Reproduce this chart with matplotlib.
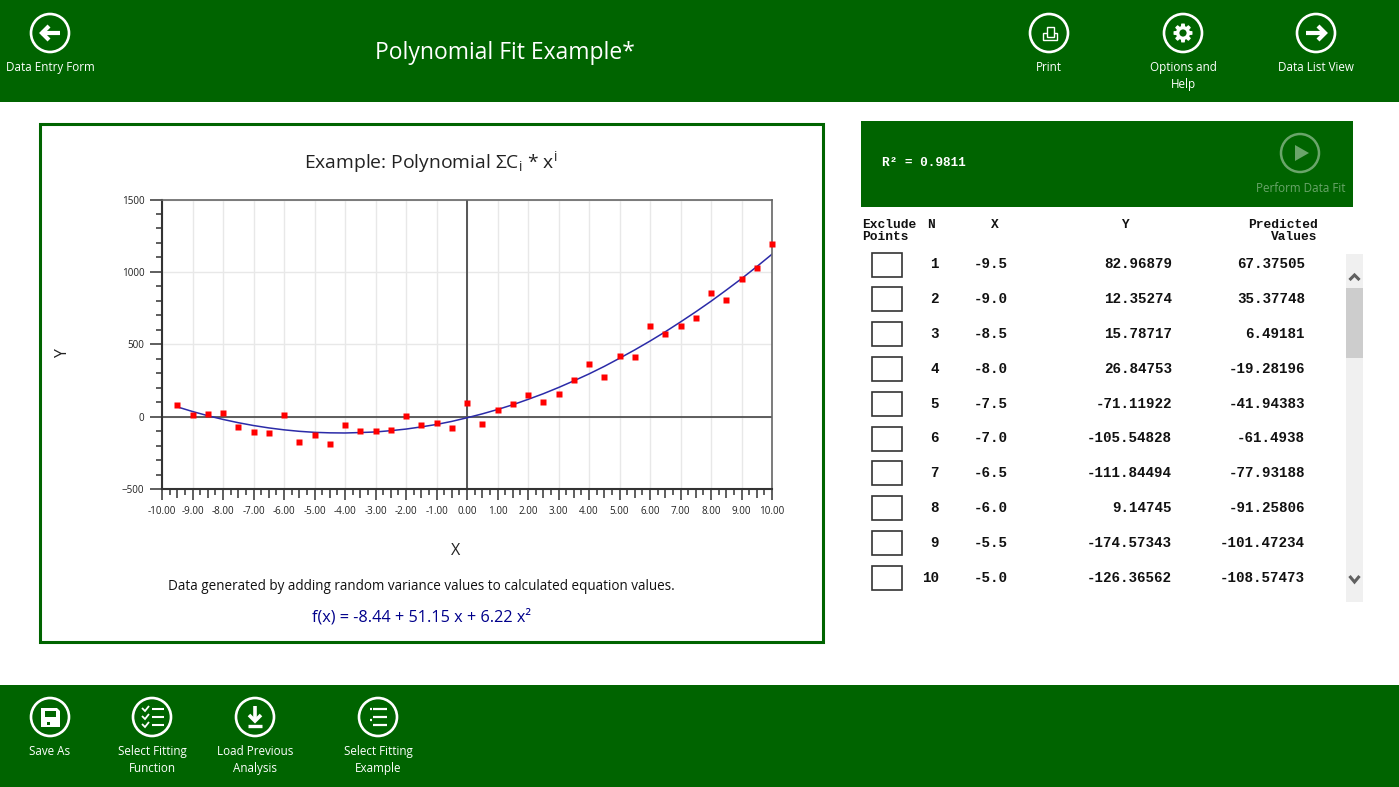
import numpy as np
import matplotlib
matplotlib.use('Agg')
import matplotlib.pyplot as plt
from matplotlib.patches import Rectangle, Circle, Polygon
from matplotlib.ticker import MultipleLocator, FormatStrFormatter

plt.rcParams['font.family'] = ['Open Sans', 'DejaVu Sans']
plt.rcParams['mathtext.default'] = 'regular'

# ---------------- data ----------------
x_vals = [-9.5, -9.0, -8.5, -8.0, -7.5, -7.0, -6.5, -6.0, -5.5, -5.0,
          -4.5, -4.0, -3.5, -3.0, -2.5, -2.0, -1.5, -1.0, -0.5, 0.0,
          0.5, 1.0, 1.5, 2.0, 2.5, 3.0, 3.5, 4.0, 4.5, 5.0,
          5.5, 6.0, 6.5, 7.0, 7.5, 8.0, 8.5, 9.0, 9.5, 10.0]
y_vals = [82.97, 12.35, 15.79, 26.85, -71.12, -105.55, -111.84, 9.15, -174.57, -126.37,
          -189, -60, -97, -101, -90, 2, -55, -44, -78, 92,
          -53, 46, 90, 152, 101, 156, 255, 363, 276, 416,
          412, 623, 570, 625, 680, 853, 807, 950, 1030, 1196]
fit_vals = [67.38, 35.38, 6.49, -19.28, -41.94, -61.49, -77.93, -91.26, -101.47, -108.57,
            -112, -113, -110, -106, -97, -86, -71, -54, -33, -8,
            19, 49, 82, 119, 158, 201, 247, 295, 347, 403,
            461, 522, 586, 654, 724, 797, 874, 953, 1036, 1122]

row_n = ['1', '2', '3', '4', '5', '6', '7', '8', '9', '10']
row_x = ['-9.5', '-9.0', '-8.5', '-8.0', '-7.5', '-7.0', '-6.5', '-6.0', '-5.5', '-5.0']
row_y = ['82.96879', '12.35274', '15.78717', '26.84753', '-71.11922',
         '-105.54828', '-111.84494', '9.14745', '-174.57343', '-126.36562']
row_pred = ['67.37505', '35.37748', '6.49181', '-19.28196', '-41.94383',
            '-61.4938', '-77.93188', '-91.25806', '-101.47234', '-108.57473']

GREEN = '#006400'
W, H = 1399, 787

fig = plt.figure(figsize=(W / 100, H / 100), dpi=100, facecolor='white')

# full window axes in pixel coordinates for the app chrome
bg = fig.add_axes([0, 0, 1, 1])
bg.set_xlim(0, W)
bg.set_ylim(H, 0)
bg.axis('off')

bg.add_patch(Rectangle((0, 0), W, 102, fc=GREEN, ec='none'))
bg.add_patch(Rectangle((0, 685), W, 102, fc=GREEN, ec='none'))
bg.add_patch(Rectangle((39.5, 124), 783, 518, fc='white', ec=GREEN, lw=2.2))
bg.add_patch(Rectangle((861, 121), 492, 86, fc=GREEN, ec='none'))


def label(x, y, s, color='white', size=8.4, **kw):
    bg.text(x, y + 0.5, s, color=color, fontsize=size, ha='center', va='center', **kw)


def ring(cx, cy, color='white'):
    bg.add_patch(Circle((cx, cy), 19, fc='none', ec=color, lw=1.9))


def seg(xs, ys, lw=2.5, color='white'):
    bg.plot(xs, ys, color=color, lw=lw, solid_capstyle='butt', solid_joinstyle='miter')


# top bar
bg.text(505, 53, 'Polynomial Fit Example*', color='white', fontsize=16.5, ha='center', va='center')

# back arrow
ring(50, 33)
seg([41, 60], [33, 33], 3)
seg([49, 42, 49], [26, 33, 40], 3)
label(50, 67, 'Data Entry Form')

# print
ring(1049, 33)
bg.add_patch(Rectangle((1043, 33), 14, 7, fc='none', ec='white', lw=1.0))
bg.add_patch(Rectangle((1047, 27), 7, 10, fc=GREEN, ec='white', lw=1.0))
label(1049, 67, 'Print')

# gear
ring(1183, 33)
ang = np.linspace(0, 2 * np.pi, 65)
rad = 9.5 - 2.5 * (np.cos(8 * ang) < -0.1)
bg.add_patch(Polygon(np.c_[1183 + rad * np.cos(ang), 33 + rad * np.sin(ang)], fc='white', ec='none'))
bg.add_patch(Circle((1183, 33), 3.6, fc=GREEN, ec='none'))
label(1183, 67, 'Options and')
label(1183, 84, 'Help')

# forward arrow
ring(1316, 33)
seg([1306, 1325], [33, 33], 3)
seg([1318, 1325, 1318], [26, 33, 40], 3)
label(1316, 67, 'Data List View')

# bottom bar
ring(50, 717)
bg.add_patch(Polygon([(41, 708), (57, 708), (60, 711), (60, 727), (41, 727)], fc='white', ec='none'))
bg.add_patch(Rectangle((45, 711), 11, 6, fc=GREEN, ec='none'))
bg.add_patch(Rectangle((47, 722), 3, 3, fc=GREEN, ec='none'))
label(50, 751, 'Save As')

ring(152, 717)
for yy in [709, 717, 725]:
    seg([142, 145, 149], [yy - 1, yy + 2, yy - 3], 1.3)
    seg([152, 164], [yy, yy], 1.5)
label(152, 751, 'Select Fitting')
label(152, 768, 'Function')

ring(255, 717)
seg([255, 255], [706, 721], 2.6)
seg([249, 255, 261], [715, 721, 715], 2.6)
seg([248, 262], [726, 726], 2.4)
label(255, 751, 'Load Previous')
label(255, 768, 'Analysis')

ring(378, 717)
for yy in [709, 717, 725]:
    seg([373, 387], [yy, yy], 1.6)
for yy in [709, 720]:
    seg([369.5, 371.5], [yy, yy], 1.6)
label(378, 751, 'Select Fitting')
label(378, 768, 'Example')

# fit panel
MONO = 'Liberation Mono'
bg.text(882, 163, 'R² = 0.9811', color='white', fontsize=9.2, family=MONO, weight='bold', va='center')
faded = '#6aa56a'
bg.add_patch(Circle((1300, 153), 19, fc='none', ec=faded, lw=1.8))
bg.add_patch(Polygon([(1295, 145), (1295, 161), (1309, 153)], fc=faded, ec='none'))
label(1301, 188, 'Perform Data Fit', color=faded)


# table headers
def mono(x, y, s, ha='left', size=9.3):
    bg.text(x, y, s, color='#111111', fontsize=size, family=MONO, weight='bold', ha=ha, va='center')


mono(862, 225, 'Exclude')
mono(862, 237, 'Points')
mono(927, 225, 'N')
mono(995, 225, 'X', ha='center')
mono(1125, 225, 'Y', ha='center')
mono(1318, 225, 'Predicted', ha='right')
mono(1317, 237, 'Values', ha='right')

# table rows
row_top = 264.5
row_step = 34.8
for i in range(len(row_n)):
    yy = row_top + i * row_step
    bg.add_patch(Rectangle((871.5, yy - 12), 30, 24, fc='white', ec='#333333', lw=1.2))
    mono(939, yy, row_n[i], ha='right', size=10.3)
    mono(974, yy, row_x[i], size=10.3)
    mono(1172, yy, row_y[i], ha='right', size=10.3)
    mono(1305, yy, row_pred[i], ha='right', size=10.3)

# scrollbar
bg.add_patch(Rectangle((1346, 254), 17, 348, fc='#f0f0f0', ec='none'))
bg.add_patch(Rectangle((1346, 288), 17, 70, fc='#cdcdcd', ec='none'))
seg([1349.5, 1354.5, 1359.5], [280, 275, 280], 2.2, '#606060')
seg([1349.5, 1354.5, 1359.5], [576, 582, 576], 2.2, '#606060')

# chart text
bg.text(431, 162, 'Example: Polynomial ΣC$_{i}$ $*$ x$^{i}$', color='#222222', fontsize=13.9, ha='center', va='center')
bg.text(63, 354, 'Y', color='#222222', fontsize=11.5, rotation=90, ha='center', va='center')
bg.text(456, 551, 'X', color='#222222', fontsize=11.5, ha='center', va='center')
bg.text(421, 587, 'Data generated by adding random variance values to calculated equation values.',
        color='#111111', fontsize=9.75, ha='center', va='center')
bg.text(421, 617, 'f(x) = -8.44 + 51.15 x + 6.22 x²', color='#00008b', fontsize=11.7, ha='center', va='center')

# --------------- the plot itself -----------------------
left, right, top, bottom = 162, 772, 199.5, 489
ax = fig.add_axes([left / W, 1 - bottom / H, (right - left) / W, (bottom - top) / H])
ax.set_xlim(-10, 10)
ax.set_ylim(-500, 1500)
ax.set_axisbelow(True)

ax.xaxis.set_major_locator(MultipleLocator(1))
ax.xaxis.set_minor_locator(MultipleLocator(0.25))
ax.xaxis.set_major_formatter(FormatStrFormatter('%.2f'))
ax.yaxis.set_major_locator(MultipleLocator(500))
ax.yaxis.set_minor_locator(MultipleLocator(100))

ax.grid(True, which='major', color='#e8e8e8', lw=1.0)
ax.axhline(0, color='#444444', lw=1.2, zorder=1)
ax.axvline(0, color='#555555', lw=1.4, zorder=1)

ax.plot(x_vals, fit_vals, color='#2b2ba8', lw=1.1, zorder=2)
ax.plot(x_vals, y_vals, ls='none', marker='s', ms=4.8, color='#ff0000', mec='none', zorder=3, clip_on=False)

ax.tick_params(axis='x', which='major', length=8, width=1.1, color='#333333', labelsize=7.1,
               labelcolor='#222222', pad=4.2)
ax.tick_params(axis='x', which='minor', length=4.1, width=1.1, color='#333333')
ax.tick_params(axis='y', which='major', length=8.4, width=1.1, color='#333333', labelsize=7.1,
               labelcolor='#222222', pad=4.3)
ax.tick_params(axis='y', which='minor', length=4.3, width=1.1, color='#333333')
# half unit ticks are a little longer than the quarter ones
for t, pos in zip(ax.xaxis.get_minor_ticks(), ax.xaxis.get_minorticklocs()):
    if abs(pos * 2 - round(pos * 2)) < 1e-6:
        t.tick1line.set_markersize(6.5)

for side in ['left', 'bottom']:
    ax.spines[side].set_color('#333333')
    ax.spines[side].set_linewidth(1.5)
for side in ['top', 'right']:
    ax.spines[side].set_color('#666666')
    ax.spines[side].set_linewidth(1.2)

fig.savefig('out.png', dpi=100)
